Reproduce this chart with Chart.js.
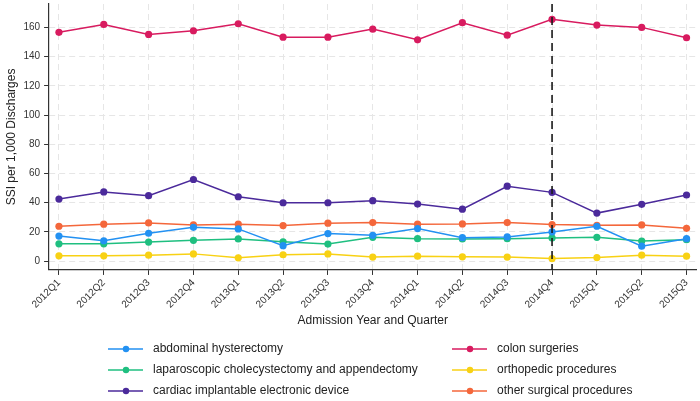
<!DOCTYPE html>
<html>
<head>
<meta charset="utf-8">
<script src="https://cdn.jsdelivr.net/npm/chart.js@4"></script>
<style>
  html, body { margin: 0; padding: 0; background: #fff; }
  #wrap { width: 700px; height: 401px; }
</style>
</head>
<body>
<div id="wrap"><canvas id="ssiChart"></canvas></div>
<script>
const quarters = ["2012Q1", "2012Q2", "2012Q3", "2012Q4", "2013Q1", "2013Q2", "2013Q3",
  "2013Q4", "2014Q1", "2014Q2", "2014Q3", "2014Q4", "2015Q1", "2015Q2", "2015Q3"];

const abdominal = [17.2, 14.0, 19.1, 23.2, 22.1, 10.6, 18.9, 17.7, 22.3, 16.1, 16.6, 20.0, 23.9, 10.3, 15.4];
const laparoscopic = [11.9, 11.9, 13.1, 14.3, 15.2, 13.3, 11.7, 16.3, 15.4, 15.2, 15.4, 15.9, 16.3, 13.8, 14.7];
const cardiac = [42.5, 47.4, 44.8, 55.9, 44.1, 40.0, 40.0, 41.4, 39.1, 35.6, 51.3, 47.1, 32.9, 38.9, 45.3];
const colon = [156.6, 162.0, 155.2, 157.7, 162.5, 153.3, 153.3, 158.8, 151.5, 163.2, 154.7, 165.5, 161.6, 160.0, 152.9];
const orthopedic = [3.7, 3.7, 4.1, 5.0, 2.3, 4.4, 5.0, 2.8, 3.4, 3.0, 2.8, 1.8, 2.5, 4.1, 3.4];
const otherSurgical = [23.9, 25.3, 26.2, 24.8, 25.3, 24.4, 26.0, 26.4, 25.3, 25.5, 26.4, 25.1, 24.6, 24.8, 22.5];

const seriesNames = ["abdominal hysterectomy", "laparoscopic cholecystectomy and appendectomy",
  "cardiac implantable electronic device", "colon surgeries", "orthopedic procedures", "other surgical procedures"];
const seriesValues = [abdominal, laparoscopic, cardiac, colon, orthopedic, otherSurgical];
const seriesColors = ["#2391f2", "#1fbf80", "#4b2a9b", "#d81b5f", "#f8d114", "#f4673b"];

const yTicks = [0, 20, 40, 60, 80, 100, 120, 140, 160];
const markerQuarter = "2014Q4";

const FONT = "'Liberation Sans', Arial, sans-serif";

const datasets = seriesValues.map((vals, i) => ({
  label: seriesNames[i],
  data: vals.map((v, j) => ({ x: j, y: v })),
  borderColor: seriesColors[i],
  backgroundColor: seriesColors[i],
  borderWidth: 1.5,
  pointRadius: 3.6,
  pointHoverRadius: 3.6,
  pointBorderWidth: 0
}));

// dashed vertical line at the marker quarter
const markerLine = {
  id: "markerLine",
  afterDatasetsDraw(chart) {
    const { ctx, chartArea, scales } = chart;
    const x = scales.x.getPixelForValue(quarters.indexOf(markerQuarter));
    ctx.save();
    ctx.strokeStyle = "#1a1a1a";
    ctx.lineWidth = 1.6;
    ctx.setLineDash([8, 5]);
    ctx.beginPath();
    ctx.moveTo(x, chartArea.top);
    ctx.lineTo(x, chartArea.bottom);
    ctx.stroke();
    ctx.restore();
  }
};

// two-column legend underneath
const bottomLegend = {
  id: "bottomLegend",
  afterDraw(chart) {
    const ctx = chart.ctx;
    ctx.save();
    ctx.font = "12px " + FONT;
    ctx.textBaseline = "middle";
    chart.data.datasets.forEach((ds, i) => {
      const col = Math.floor(i / 3);
      const row = i % 3;
      const x0 = col === 0 ? 108 : 452;
      const y = 349 + row * 21;
      ctx.strokeStyle = ds.borderColor;
      ctx.lineWidth = 1.5;
      ctx.beginPath();
      ctx.moveTo(x0, y);
      ctx.lineTo(x0 + 35, y);
      ctx.stroke();
      ctx.fillStyle = ds.borderColor;
      ctx.beginPath();
      ctx.arc(x0 + 18, y, 3.2, 0, Math.PI * 2);
      ctx.fill();
      ctx.fillStyle = "#222";
      ctx.fillText(ds.label, x0 + 45, y);
    });
    ctx.restore();
  }
};

new Chart(document.getElementById("ssiChart"), {
  type: "line",
  data: { datasets },
  plugins: [markerLine, bottomLegend],
  options: {
    responsive: true,
    maintainAspectRatio: false,
    animation: false,
    layout: { padding: { top: 4, right: 2, bottom: 73, left: 0 } },
    plugins: { legend: { display: false }, tooltip: { enabled: false } },
    scales: {
      x: {
        type: "linear",
        min: -0.22,
        max: quarters.length - 1 + 0.22,
        afterBuildTicks(scale) { scale.ticks = quarters.map((q, i) => ({ value: i })); },
        ticks: {
          callback: (v) => quarters[v],
          minRotation: 45, maxRotation: 45,
          autoSkip: false,
          color: "#333",
          font: { family: FONT, size: 10 },
          padding: 2
        },
        grid: {
          color: "#e6e6e6",
          tickColor: "#333",
          tickLength: 5,
          drawOnChartArea: true
        },
        border: { color: "#333", width: 1.2, dash: [6, 4] },
        title: {
          display: true,
          text: "Admission Year and Quarter",
          color: "#222",
          font: { family: FONT, size: 12 },
          padding: { top: 1, bottom: 0 }
        }
      },
      y: {
        min: -6,
        max: 176,
        afterBuildTicks(scale) { scale.ticks = yTicks.map(v => ({ value: v })); },
        afterFit(scale) { scale.paddingTop = 0; },
        ticks: {
          color: "#333",
          font: { family: FONT, size: 10 },
          padding: 4
        },
        grid: {
          color: "#e6e6e6",
          tickColor: "#333",
          tickLength: 5
        },
        border: { color: "#333", width: 1.2, dash: [6, 4] },
        title: {
          display: true,
          text: "SSI per 1,000 Discharges",
          color: "#222",
          font: { family: FONT, size: 12 },
          padding: { top: 4, bottom: 1 }
        }
      }
    }
  }
});
</script>
</body>
</html>
